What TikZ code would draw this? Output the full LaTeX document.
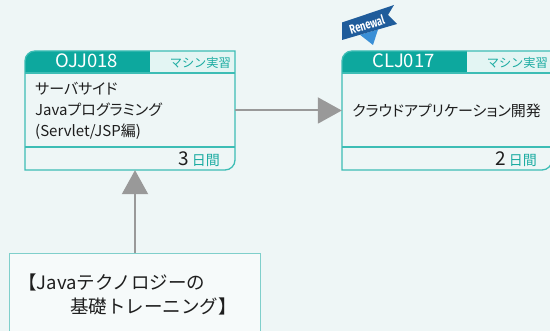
\documentclass[tikz,border=0pt]{standalone}
\usepackage{fontspec}
\setmainfont{Noto Sans CJK JP}
\newfontfamily\titlefont{Noto Sans CJK JP}[RawFeature=+palt]
\newfontfamily\flagfont{Fira Sans}
\usetikzlibrary{arrows.meta}

\definecolor{pagebg}{HTML}{EEF6F6}
\definecolor{headteal}{HTML}{0DA89E}
\definecolor{headlight}{HTML}{E3F5F3}
\definecolor{boxedge}{HTML}{3DBDB5}
\definecolor{tealtext}{HTML}{1AABA1}
\definecolor{arrowgray}{HTML}{999999}
\definecolor{baseedge}{HTML}{7FCFCB}
\definecolor{basefill}{HTML}{F6FAFA}
\definecolor{flagblue}{HTML}{1F5C9B}
\definecolor{flaglight}{HTML}{3A8FD6}
\definecolor{inktext}{HTML}{1E1E1E}

% course box: name, top left corner, code, title, days
\newcommand{\course}[5]{%
	\begin{scope}[shift={(#2)}]
		\node [coursebox] (#1) at (105,-59.5) {};
		\fill [headteal] (0,-22) -- (0,-10) arc[start angle=180,end angle=90,radius=10pt] -- (125,0) -- (125,-22) -- cycle;
		\fill [headlight] (125,-22) rectangle (210,0);
		\draw [boxline] (0,-119) -- (0,-10) arc[start angle=180,end angle=90,radius=10pt]
			-- (210,0) -- (210,-109) arc[start angle=0,end angle=-90,radius=10pt] -- cycle;
		\draw [boxline] (0,-22) -- (210,-22);
		\draw [boxline] (0,-96) -- (210,-96);
		\node [codetext] (#1-code) at (61.5,-17) {#3};
		\node [typetext] (#1-type) at (206,-17) {マシン実習};
		\node [titletext] (#1-title) at (10,-60) {#4};
		\node [daystext] (#1-days) at (195,-115) {#5\,{\color{tealtext}\fontsize{14}{14}\selectfont 日間}};
	\end{scope}
}

\begin{document}
\begin{tikzpicture}[
		x=1pt,y=1pt,
		coursebox/.style={minimum width=210pt,minimum height=119pt,inner sep=0pt},
		boxline/.style={draw=boxedge,line width=1.3pt},
		codetext/.style={anchor=base,inner sep=0pt,text=white,font=\fontsize{18.5}{18.5}\selectfont},
		typetext/.style={anchor=base east,inner sep=0pt,text=tealtext,font=\fontsize{12.2}{12.2}\selectfont},
		titletext/.style={anchor=west,inner sep=0pt,align=left,text=inktext,font=\titlefont\fontsize{15}{21}\selectfont},
		daystext/.style={anchor=base east,inner sep=0pt,text=inktext,font=\fontsize{19}{19}\selectfont},
		basebox/.style={draw=baseedge,fill=basefill,line width=1pt,minimum width=251pt,minimum height=100pt,anchor=north west},
		basetext/.style={anchor=west,inner sep=0pt,align=left,text=inktext,font=\fontsize{18.5}{24}\selectfont},
		flow/.style={draw=arrowgray,line width=2pt,-{Triangle[length=24pt,width=26pt]}},
		renewal/.style={text=white,inner sep=0pt,rotate=17,font=\flagfont\bfseries\fontsize{13}{13}\selectfont}
	]
	\useasboundingbox (0,0) rectangle (550,331);
	\fill [pagebg] (0,0) rectangle (550,331);

	\course{ojj}{25,280}{OJJ018}{サーバサイド\\Javaプログラミング\\(Servlet/JSP編)}{3}
	\course{clj}{342,280}{CLJ017}{クラウドアプリケーション開発}{2}

	% renewal flag
	\fill [flaglight] (360,296.2) -- (378,301.5) -- (373,286) -- cycle;
	\fill [flagblue] (342,291) -- (342,308.5) -- (394,326) -- (388,316) -- (397,307) -- cycle;
	\node [renewal] (renew) at (367,306.5) {\scalebox{0.72}[1]{Renewal}};

	\node [basebox] (javabase) at (9,78) {};
	\node [basetext] (javabase-text) at (18,36.5) {【Javaテクノロジーの\\\hspace*{52pt}基礎トレーニング】};

	\draw [flow] (ojj) -- (clj);
	\draw [flow] (javabase.north) -- (javabase.north |- ojj.south);
\end{tikzpicture}
\end{document}
